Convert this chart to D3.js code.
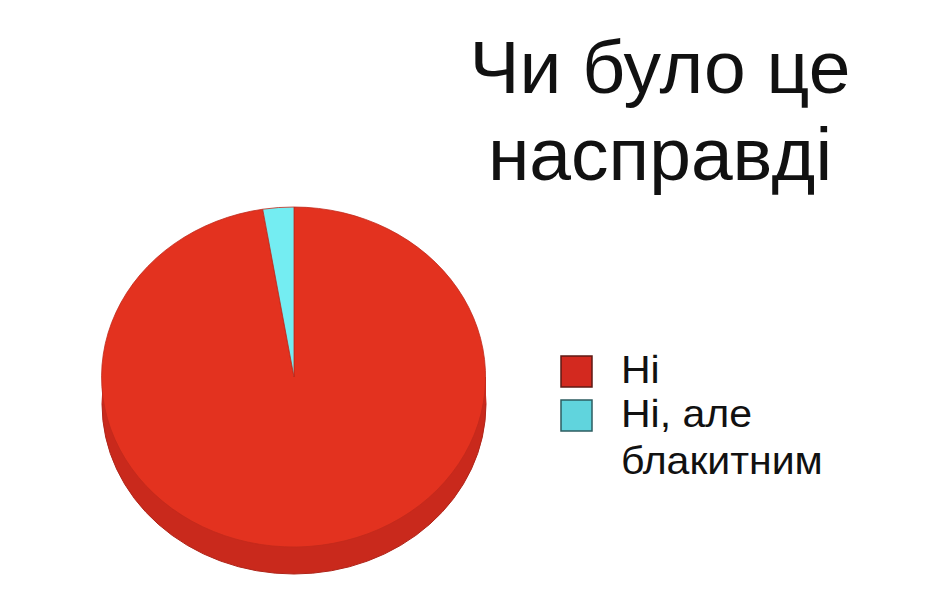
<!DOCTYPE html>
<html>
<head>
<meta charset="utf-8">
<script src="https://cdn.jsdelivr.net/npm/d3@7"></script>
<style>
  body { margin: 0; background: #fff; }
  text { font-family: "Liberation Sans", Arial, sans-serif; fill: #111; }
</style>
</head>
<body>
<svg id="chart"></svg>
<script>
var w = 943;
var h = 602;

// data
var categories = ["Ні", "Ні, але блакитним"];
var values = [97.4, 2.6];
var legendLines = [["Ні"], ["Ні, але", "блакитним"]];
var titleLines = ["Чи було це", "насправді"];

var topColors = ["#e3321f", "#74edf2"];
var legendColors = ["#d3291f", "#60d4dd"];
var legendStrokes = ["#5e1a14", "#2c5c60"];

// pie geometry (flattened ellipse with a rim)
var cx = 294, cy = 377;
var rx = 192, ry = 170;
var depth = 27;

var svg = d3.select("#chart")
    .attr("width", w)
    .attr("height", h);

var pie = d3.pie().sort(null).value(function(d){ return d; });
var arcs = pie(values);
var arc = d3.arc().innerRadius(0).outerRadius(1);

// rim
var rim = svg.append("g");
rim.append("path")
    .attr("transform", "translate(" + cx + "," + (cy + depth) + ") scale(" + rx + "," + ry + ")")
    .attr("d", arc({startAngle: 0, endAngle: 2 * Math.PI}))
    .attr("fill", "#c9291c")
    .attr("stroke", "#b0251a")
    .attr("stroke-width", 1)
    .attr("vector-effect", "non-scaling-stroke");
rim.append("rect")
    .attr("x", cx - rx)
    .attr("y", cy)
    .attr("width", rx * 2)
    .attr("height", depth)
    .attr("fill", "#c9291c");

// top face
svg.append("g")
    .attr("transform", "translate(" + cx + "," + cy + ") scale(" + rx + "," + ry + ")")
  .selectAll("path")
    .data(arcs)
  .enter().append("path")
    .attr("d", arc)
    .attr("fill", function(d, i){ return topColors[i]; })
    .attr("stroke", "#c22a1c")
    .attr("stroke-width", 0.8)
    .attr("vector-effect", "non-scaling-stroke");

// title
svg.append("g").selectAll("text")
    .data(titleLines)
  .enter().append("text")
    .attr("x", 660)
    .attr("y", function(d, i){ return 93 + i * 87; })
    .attr("text-anchor", "middle")
    .style("font-size", "75px")
    .text(function(d){ return d; });

// legend
var legend = svg.append("g");
var itemY = [356, 400];
categories.forEach(function(c, i){
    legend.append("rect")
        .attr("x", 561)
        .attr("y", itemY[i])
        .attr("width", 31)
        .attr("height", 31)
        .attr("fill", legendColors[i])
        .attr("stroke", legendStrokes[i])
        .attr("stroke-width", 1.5);
    // text in the picture is a bit wider than Liberation Sans
    var t = legend.append("text")
        .attr("transform", "translate(621," + (itemY[i] + 27) + ") scale(1.08,1)")
        .style("font-size", "38px");
    legendLines[i].forEach(function(line, j){
        t.append("tspan")
            .attr("x", 0)
            .attr("dy", j == 0 ? 0 : 47)
            .text(line);
    });
});
</script>
</body>
</html>
